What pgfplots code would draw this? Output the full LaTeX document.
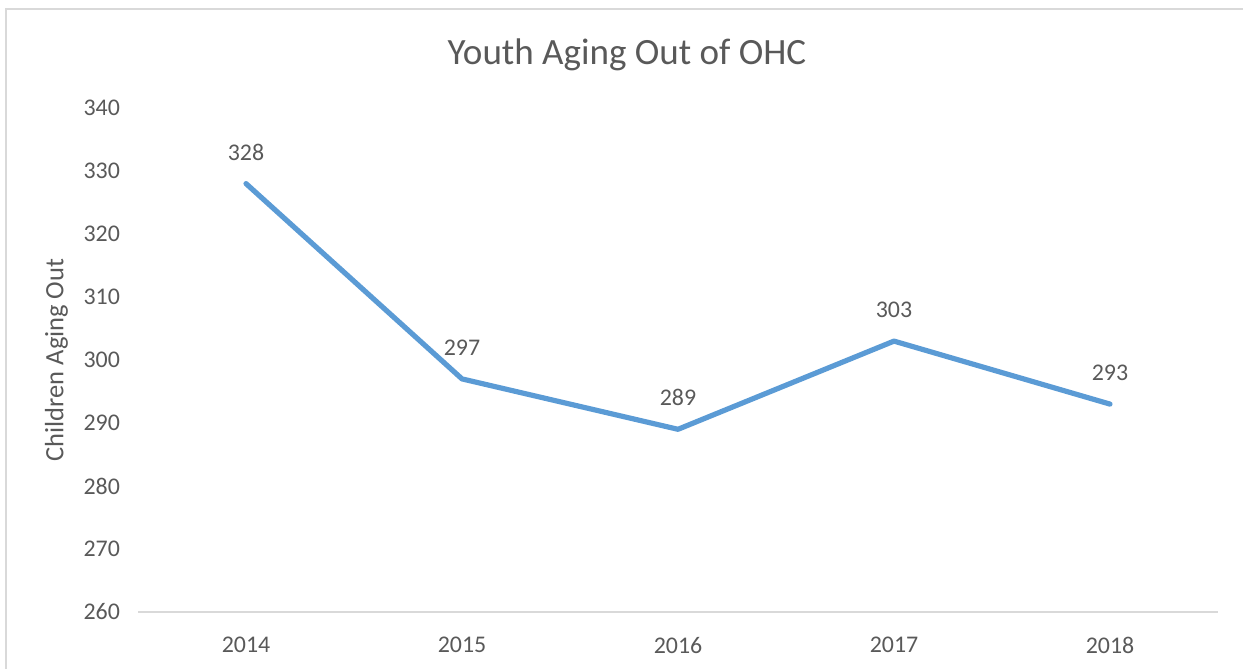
\documentclass[border=0pt]{standalone}
\usepackage{fontspec}
\setmainfont{Carlito}
\usepackage{pgfplots}
\pgfplotsset{compat=1.18}
\definecolor{excelblue}{RGB}{91,155,213}
\definecolor{txtgray}{RGB}{89,89,89}
\definecolor{axgray}{RGB}{217,217,217}

\begin{document}
\begin{tikzpicture}
% canvas 1243 x 669 px, 1px = 0.5bp, y measured from bottom
\useasboundingbox (0,0) rectangle (621.5bp,334.5bp);
\draw[axgray, line width=0.9bp] (3bp,0) -- (3bp,330bp) -- (621.5bp,330bp);
\node[txtgray, font=\fontsize{18.6}{22}\selectfont] at (313.5bp,307bp) {Youth Aging Out of OHC};
\begin{axis}[
    at={(69bp,28.5bp)}, anchor=south west,
    scale only axis,
    width=540bp, height=252bp,
    xmin=-0.5, xmax=4.5,
    ymin=260, ymax=340,
    xtick={0,1,2,3,4},
    xticklabels={2014,2015,2016,2017,2018},
    ytick={260,270,...,340},
    axis line style={draw=none},
    tick style={draw=none},
    ticklabel style={txtgray, font=\fontsize{12}{14}\selectfont},
    /pgf/number format/assume math mode=true,
    yticklabel style={xshift=-5.5bp},
    xticklabel style={yshift=-9bp},
    ylabel={Children Aging Out},
    ylabel style={txtgray, font=\fontsize{13.3}{16}\selectfont, at={(axis description cs:-0.0755,0.5)}, anchor=center},
    clip=false,
]
\draw[axgray, line width=0.9bp] (axis cs:-0.5,260) -- (axis cs:4.5,260);
\addplot[color=excelblue, line width=2.6bp, line join=round, line cap=round,
    nodes near coords,
    every node near coord/.append style={txtgray, font=\fontsize{12}{14}\selectfont, anchor=south, yshift=7bp}]
    coordinates {(0,328) (1,297) (2,289) (3,303) (4,293)};
\end{axis}
\end{tikzpicture}
\end{document}
